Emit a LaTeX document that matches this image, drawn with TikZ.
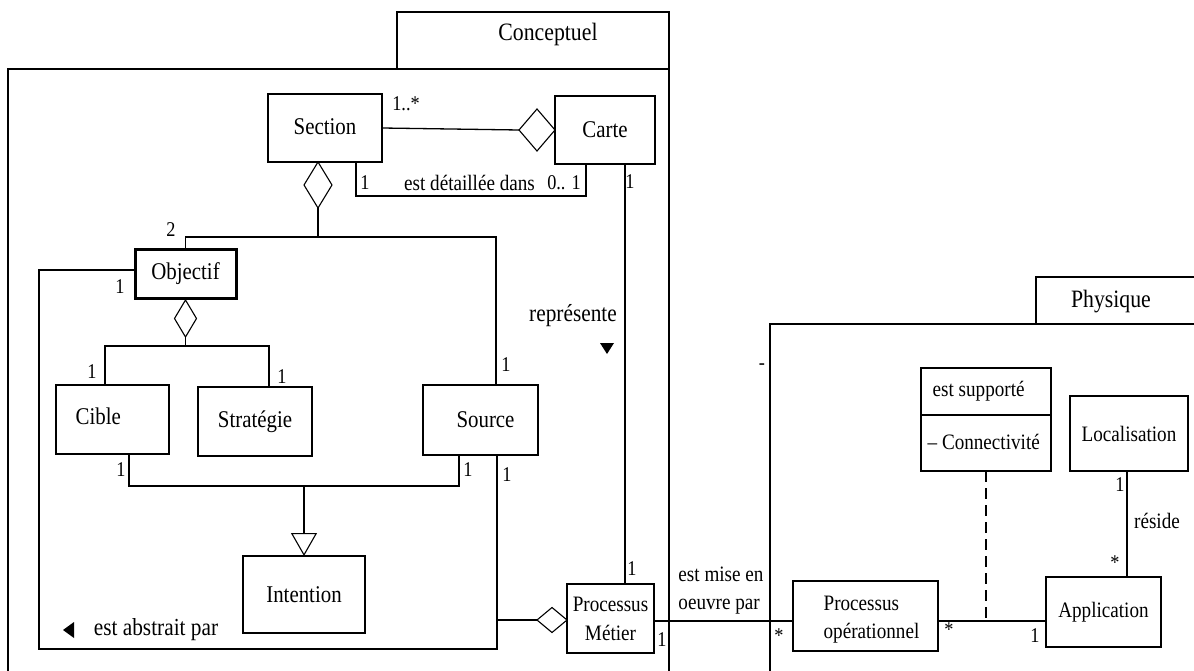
\documentclass[tikz,border=0pt]{standalone}
\usepackage{fontspec}
\setmainfont{Liberation Serif}[FakeStretch=0.87]
\usetikzlibrary{shapes.geometric,arrows.meta}

\begin{document}
\begin{tikzpicture}[x=1pt,y=-1pt,
  line width=1.3pt,
  cls/.style={draw, line width=1.4pt, inner sep=0pt, outer sep=0pt, fill=white,
              font=\fontsize{24}{26}\selectfont},
  pkg/.style={line width=1.6pt},
  tab/.style={draw, line width=1.6pt, inner sep=0pt, outer sep=0pt},
  ttl/.style={inner sep=0pt, font=\fontsize{25}{27}\selectfont},
  txt/.style={inner sep=0pt, font=\fontsize{24}{26}\selectfont},
  lbl/.style={inner sep=0pt, font=\fontsize{22}{28}\selectfont},
  biglbl/.style={inner sep=0pt, font=\fontsize{24.5}{28}\selectfont},
  mult/.style={inner sep=0pt, font=\fontsize{21}{24}\selectfont},
  agg/.style={draw, diamond, fill=white, inner sep=0pt, outer sep=0pt, line width=1.1pt},
  gen/.style={-{Triangle[open,width=26pt,length=23pt,line width=1.1pt]}},
]
\useasboundingbox (0,0) rectangle (1194,671);
\clip (0,0) rectangle (1194,671);

% ---------- packages ----------
\node[tab, minimum width=272, minimum height=57] (tabc) at (533,40.5) {};
\node[ttl] at (548,34) {Conceptuel};
\draw[pkg] (8,680) |- (tabc.south east) -- (669,680);

\node[tab, minimum width=170, minimum height=47] (tabp) at (1121,300.5) {};
\node[ttl] at (1111,302) {Physique};
\draw[pkg] (770,680) |- (1200,324);
\node[mult] at (762,367) {-};

% ---------- conceptual classes ----------
\node[cls, minimum width=114, minimum height=68] (section) at (325,128) {};
\node[txt, anchor=west] at (293,127) {Section};
\node[cls, minimum width=100, minimum height=68] (carte) at (605,130) {Carte};
\node[cls, line width=3pt, minimum width=101, minimum height=49] (objectif) at (185.5,273.5) {Objectif};
\node[cls, minimum width=113, minimum height=69] (cible) at (112.5,419.5) {};
\node[txt, anchor=west] at (75,416) {Cible};
\node[cls, minimum width=114, minimum height=69] (strategie) at (255,421.5) {Stratégie};
\node[cls, minimum width=115, minimum height=70] (source) at (480.5,420) {\hspace*{10pt}Source};
\node[cls, minimum width=122, minimum height=77] (intention) at (304,594.5) {Intention};
\node[cls, minimum width=87, minimum height=69, align=center,
      font=\fontsize{22}{29}\selectfont] (pm) at (610.5,618.5) {Processus\\Métier};

% ---------- physical classes ----------
\node[cls, minimum width=145, minimum height=70] (procop) at (865.5,616) {};
\node[lbl, anchor=west, align=left] at (823,620) {Processus\\opérationnel};
\node[cls, minimum width=115, minimum height=70, font=\fontsize{22}{26}\selectfont]
      (application) at (1103.5,612) {Application};
\node[cls, minimum width=118, minimum height=75, font=\fontsize{22}{26}\selectfont]
      (localisation) at (1129,433.5) {Localisation};
\node[cls, minimum width=130, minimum height=47] (supp) at (986,391.5) {};
\node[cls, minimum width=130, minimum height=56] (conn) at (986,443) {};
\node[lbl, anchor=west] at (932,391) {est supporté};
\node[lbl, anchor=west] at (927,442) {– Connectivité};

% ---------- Section / Carte ----------
\node[agg, minimum width=36, minimum height=42, anchor=east] (d1) at (carte.west) {};
\draw (section.east) -- (d1.west);
\node[mult] at (406,104) {1..*};

\draw ([xshift=31]section.south) -- ++(0,34) -| ([xshift=-19]carte.south);
\node[mult] at (365,183) {1};
\node[lbl] at (469.5,183) {est détaillée dans};
\node[mult] at (564,183) {0.. 1};

% ---------- Section composed of Objectif / Source ----------
\node[agg, minimum width=28, minimum height=46, anchor=north] (d2) at ([xshift=-7]section.south) {};
\coordinate (bar1) at (318,237);
\draw (d2.south) -- (bar1);
\draw[line width=1.6pt] (objectif.north) |- (bar1) -| ([xshift=15.5]source.north);
\node[mult] at (171,230) {2};
\node[mult] at (506,365) {1};

% ---------- Objectif composed of Cible / Strategie ----------
\node[agg, minimum width=22, minimum height=37, anchor=north] (d4) at ([yshift=-2]objectif.south) {};
\draw (d4.south) -- ++(0,9) coordinate (bar2);
\draw ([xshift=-7.5]cible.north) |- (bar2) -| ([xshift=14]strategie.north);
\node[mult] at (92,372) {1};
\node[mult] at (282,377) {1};
\node[mult] at (120,287) {1};

% ---------- generalisation to Intention ----------
\draw ([xshift=16.5]cible.south) -- ++(0,32) -| ([xshift=-21.5]source.south);
\coordinate (bar3) at (304,486);
\draw[gen] (bar3) -- (intention.north);
\node[mult] at (121,470) {1};
\node[mult] at (468,470) {1};

% ---------- est abstrait par ----------
\draw ([yshift=3.5]objectif.west) -| (39,649) -| ([xshift=16.5]source.south);
\node[agg, minimum width=30, minimum height=25, anchor=east] (d3) at ([yshift=-1.5]pm.west) {};
\coordinate (srcjoin) at (497,620);
\draw (srcjoin) -- (d3.west);
\node[mult] at (507,475) {1};
\fill (63,630) -- (74,622) -- (74,638) -- cycle;
\node[biglbl] at (156,630) {est abstrait par};

% ---------- représente ----------
\draw ([xshift=20]carte.south) -- ([xshift=14.5]pm.north);
\node[mult] at (630,182) {1};
\node[mult] at (632,569) {1};
\node[biglbl] at (573,316) {représente};
\fill (600,343) -- (614,343) -- (607,354) -- cycle;

% ---------- est mise en oeuvre par ----------
\draw ([yshift=-2.5]pm.east) -- ([yshift=-5]procop.west);
\node[lbl, align=left] at (721,591) {est mise en\\oeuvre par};
\node[mult] at (662,640) {1};
\node[mult] at (779,636) {*};

% ---------- Processus opérationnel / Application ----------
\draw ([yshift=-5]procop.east) -- ([yshift=-9]application.west);
\draw[dashed, dash pattern=on 11pt off 6pt] (conn.south) -- ([yshift=-5]conn.south |- procop.east);
\node[mult] at (949,630) {*};
\node[mult] at (1035,636) {1};

% ---------- réside ----------
\draw ([xshift=-2]localisation.south) -- ([xshift=23.5]application.north);
\node[mult] at (1120,485) {1};
\node[lbl] at (1157,521) {réside};
\node[mult] at (1115,563) {*};
\end{tikzpicture}
\end{document}
